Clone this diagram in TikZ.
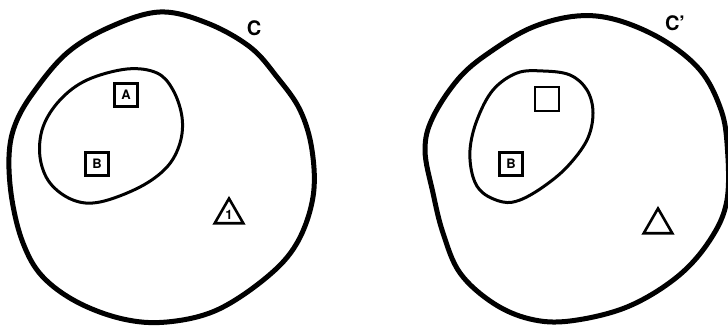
\documentclass[tikz,border=0pt]{standalone}
\usepackage{fontspec}
\setsansfont{TeX Gyre Heros}
\usetikzlibrary{shapes.geometric}
\begin{document}
\begin{tikzpicture}[x=1pt,y=-1pt,
  outer/.style={line width=5pt},
  inner/.style={line width=3pt},
  boxnode/.style={draw,line width=2.2pt,minimum size=23pt,inner sep=0pt,font=\sffamily\bfseries\fontsize{13}{13}\selectfont},
  trinode/.style={draw,line width=2.6pt,regular polygon,regular polygon sides=3,minimum size=33pt,inner sep=0pt,font=\sffamily\bfseries\fontsize{13}{13}\selectfont},
  lab/.style={font=\sffamily\bfseries\fontsize{20}{20}\selectfont}]
\useasboundingbox (0,0) rectangle (728,326);
\begin{scope}
\clip (0,0) rectangle (728,326);
% left outer
\draw[outer] plot[smooth cycle,tension=0.6] coordinates {(160,12) (207,23) (250,47) (277,77) (300,110) (312,150) (313,197) (297,243) (267,277) (217,310) (167,322) (123,319) (77,302) (42,276) (23,243) (12,200) (9,157) (15,125) (33,93) (67,53) (110,27)};
% left inner
\draw[inner] plot[smooth cycle,tension=0.6] coordinates {(127,69) (157,73) (173,90) (182,117) (180,143) (167,167) (140,187) (100,202) (73,200) (50,183) (40,157) (43,127) (60,100) (87,80)};
% right outer
\draw[outer] plot[smooth cycle,tension=0.6] coordinates {(577,16) (617,20) (663,40) (700,70) (720,107) (727,143) (727,200) (710,240) (677,277) (627,307) (570,321) (530,319) (493,303) (460,273) (443,233) (433,193) (425,150) (433,117) (460,77) (493,50) (533,27)};
% right inner
\draw[inner] plot[smooth cycle,tension=0.6] coordinates {(543,71) (570,75) (587,90) (593,113) (587,140) (567,167) (543,187) (520,200) (503,202) (483,193) (473,177) (470,150) (477,120) (493,90) (517,73)};
\end{scope}
\node[lab] (c1) at (254,28) {C};
\node[lab] (c2) at (675,23) {C'};
\node[boxnode] (a1) at (126,95) {A};
\node[boxnode] (b1) at (97,164) {B};
\node[trinode] (t1) at (229,215) {\raisebox{-2pt}{1}};
\node[boxnode,minimum size=24pt] (a2) at (547,99) {};
\node[boxnode] (b2) at (511,164) {B};
\node[trinode] (t2) at (658,225) {};
\end{tikzpicture}
\end{document}
